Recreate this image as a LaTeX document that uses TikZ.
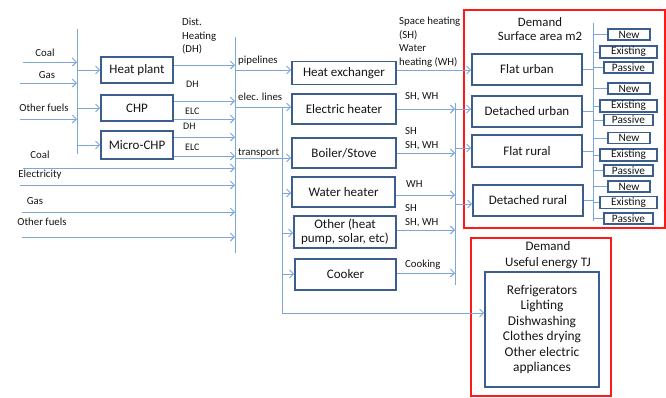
\documentclass[tikz,border=0pt]{standalone}
\usepackage{fontspec}
\setmainfont{Carlito}
\usetikzlibrary{arrows.meta}
\definecolor{lnc}{HTML}{7EA6DA}
\definecolor{bxc}{HTML}{3B5E8C}
\definecolor{rdc}{HTML}{FF1A1A}
\definecolor{txc}{HTML}{141414}
\begin{document}
\begin{tikzpicture}[x=1pt,y=-1pt,
  wire/.style={draw=lnc, line width=1pt},
  arr/.style={draw=lnc, line width=1pt, -{Straight Barb[length=4pt,width=8pt,line width=0.9pt]}},
  box/.style={draw=bxc, line width=1.6pt, font=\fontsize{13}{13.8}\selectfont, text=txc, inner sep=0pt, align=center},
  sbox/.style={draw=bxc, line width=1.3pt, font=\fontsize{11.3}{12}\selectfont, text=txc, inner sep=0pt},
  lbl/.style={font=\fontsize{10.8}{13.5}\selectfont, text=txc, inner sep=0pt, align=left},
  slbl/.style={font=\fontsize{10}{12}\selectfont, text=txc, inner sep=0pt},
  red/.style={draw=rdc, line width=1.5pt}
]
\useasboundingbox (0,0) rectangle (666,397);

% ---------- left fuel inputs ----------
\coordinate (b1top) at (77,29);
\coordinate (b1bot) at (77,154);
\draw[wire] (b1top) -- (b1bot);

\node[lbl] (lcoal) at (45,53) {Coal};
\node[lbl] (lgas) at (47,75) {Gas};
\node[lbl] (lof) at (44,108) {Other fuels};
\coordinate (ci1) at (23,62);
\coordinate (ci2) at (20,83);
\coordinate (ci3) at (20,119);
\draw[arr] (ci1) -- (ci1 -| b1top);
\draw[arr] (ci2) -- (ci2 -| b1top);
\draw[arr] (ci3) -- (ci3 -| b1top);

% conversion plants
\node[box, minimum width=72pt, minimum height=26pt] (hp) at (137,70) {Heat plant};
\node[box, minimum width=72pt, minimum height=26pt] (chp) at (137,108) {CHP};
\node[box, minimum width=72pt, minimum height=28pt] (mchp) at (137,145) {Micro-CHP};
\draw[arr] (hp.west -| b1top) -- (hp.west);
\draw[arr] (chp.west -| b1top) -- (chp.west);
\draw[arr] (mchp.west -| b1top) -- (mchp.west);

% second bus
\coordinate (b2top) at (235,37);
\coordinate (b2bot) at (235,253);
\draw[wire] (b2top) -- (b2bot);

\coordinate (hpo) at ([yshift=5pt]hp.east);
\coordinate (chpd) at ([yshift=7pt]chp.east);
\coordinate (chpe) at ([yshift=-11pt]chp.east);
\coordinate (mchd) at ([yshift=8pt]mchp.east);
\coordinate (mche) at ([yshift=-11pt]mchp.east);
\draw[arr] (hpo) -- (hpo -| b2top);
\draw[arr] (chpd) -- (chpd -| b2top);
\draw[arr] (chpe) -- (chpe -| b2top);
\draw[arr] (mchd) -- (mchd -| b2top);
\draw[arr] (mche) -- (mche -| b2top);

\node[lbl, anchor=west] (ldh0) at (182,36.5) {Dist.\\Heating\\(DH)};
\node[slbl, anchor=west] (ldh1) at (186,84) {DH};
\node[slbl, anchor=west] (lel1) at (185,111) {ELC};
\node[slbl, anchor=west] (ldh2) at (183,126) {DH};
\node[slbl, anchor=west] (lel2) at (185,147) {ELC};

% direct fuel inputs
\node[lbl] (lcoal2) at (40,155) {Coal};
\node[lbl] (lelec) at (40,175) {Electricity};
\node[lbl] (lgas2) at (35,201) {Gas};
\node[lbl] (lof2) at (42,222) {Other fuels};
\coordinate (di1) at (23,168);
\coordinate (di2) at (20,185);
\coordinate (di3) at (22,212);
\coordinate (di4) at (22,237);
\draw[arr] (di1) -- (di1 -| b2top);
\draw[arr] (di2) -- (di2 -| b2top);
\draw[arr] (di3) -- (di3 -| b2top);
\draw[arr] (di4) -- (di4 -| b2top);

% ---------- end-use technologies ----------
\node[box, minimum width=104pt, minimum height=23pt] (hx) at (344,73) {Heat exchanger};
\node[box, minimum width=104pt, minimum height=30pt] (eh) at (344,109) {Electric heater};
\node[box, minimum width=104pt, minimum height=30pt] (bs) at (344,153) {Boiler/Stove};
\node[box, minimum width=103pt, minimum height=30pt] (wh) at (343.5,192) {Water heater};
\node[box, minimum width=102pt, minimum height=32pt] (ot) at (345,232) {Other (heat\\pump, solar, etc)};
\node[box, minimum width=101pt, minimum height=31pt] (ck) at (345.5,274.5) {Cooker};

\coordinate (p1) at (235,70);
\coordinate (e1) at (235,107);
\coordinate (t1) at (235,158);
\coordinate (e2) at (282,107);
\coordinate (e3) at (282,313);
\coordinate (w1) at (282,193);
\coordinate (o1) at (282,233);
\coordinate (k1) at (282,274);
\node[lbl, anchor=west] (lpipe) at (238,61) {pipelines};
\node[lbl, anchor=west] (lelin) at (238,97) {elec. lines};
\node[lbl, anchor=west] (ltran) at (238,153) {transport};
\draw[arr] (p1) -- (p1 -| hx.west);
\draw[arr] (e1) -- (e1 -| eh.west);
\draw[arr] (t1) -- (t1 -| bs.west);
\draw[arr] (w1) -- (w1 -| wh.west);
\draw[arr] (o1) -- (o1 -| ot.west);
\draw[arr] (k1) -- (k1 -| ck.west);

% third bus
\coordinate (b3top) at (455,103);
\coordinate (b3bot) at (455,285);
\draw[wire] (b3top) -- (b3bot);

\coordinate (hxo) at ([yshift=3pt]hx.east);
\coordinate (who) at ([yshift=-3pt]wh.east);
\coordinate (oto) at ([yshift=2pt]ot.east);
\coordinate (cko) at ([yshift=1.5pt]ck.east);
\draw[arr] (eh.east) -- (eh.east -| b3top);
\draw[arr] (bs.east) -- (bs.east -| b3top);
\draw[arr] (who) -- (who -| b3top);
\draw[arr] (oto) -- (oto -| b3top);
\draw[arr] (cko) -- (cko -| b3top);

\node[lbl, anchor=west] (lsh) at (399,42) {Space heating\\(SH)\\Water\\heating (WH)};
\node[lbl, anchor=west] (l1) at (405,97) {SH, WH};
\node[lbl, anchor=west] (l2) at (405,138.5) {SH\\SH, WH};
\node[lbl, anchor=west] (l3) at (406,184) {WH};
\node[lbl, anchor=west] (l4) at (405,215.5) {SH\\SH, WH};
\node[lbl, anchor=west] (l5) at (405,265) {Cooking};

% ---------- demand: surface area ----------
\draw[red] (464,10) rectangle (665,228);
\node[font=\fontsize{12.8}{14.5}\selectfont, text=txc, align=center, inner sep=0pt] (dem1) at (540,29) {Demand\\Surface area m2};

\node[box, minimum width=110pt, minimum height=31pt] (fu) at (527,69.5) {Flat urban};
\node[box, minimum width=110pt, minimum height=31pt] (du) at (527,111.5) {Detached urban};
\node[box, minimum width=110pt, minimum height=32pt] (fr) at (527,151) {Flat rural};
\node[box, minimum width=110pt, minimum height=31pt] (dr) at (528,200.5) {Detached rural};

\coordinate (q2) at (455,148);
\coordinate (q3) at (455,204);
\draw[arr] (hxo) -- (hxo -| fu.west);
\draw[arr] (eh.east -| b3top) -- (eh.east -| du.west);
\draw[arr] (q2) -- (q2 -| fr.west);
\draw[arr] (q3) -- (q3 -| dr.west);

\coordinate (b4top) at (593,23);
\coordinate (b4bot) at (593,221);
\draw[wire] (b4top) -- (b4bot);
\draw[wire] (fu.east) -- (fu.east -| b4top);
\draw[wire] (du.east) -- (du.east -| b4top);
\draw[wire] (fr.east) -- (fr.east -| b4top);
\draw[wire] (dr.east) -- (dr.east -| b4top);

\foreach \i/\yn/\ye/\yp in {1/34.5/52/67.5, 2/88.5/106/120, 3/138/155/170.5, 4/186.5/202.5/218.5}{
  \node[sbox, minimum width=42pt, minimum height=11pt] (n\i) at (629,\yn) {New};
  \node[sbox, minimum width=57pt, minimum height=12pt] (x\i) at (628.5,\ye) {Existing};
  \node[sbox, minimum width=49pt, minimum height=11pt] (s\i) at (628.5,\yp) {Passive};
  \draw[wire] (n\i.west -| b4top) -- (n\i.west);
  \draw[wire] (x\i.west -| b4top) -- (x\i.west);
  \draw[wire] (s\i.west -| b4top) -- (s\i.west);
}

% ---------- demand: useful energy ----------
\draw[red] (471,238) rectangle (611,396);
\node[font=\fontsize{13}{16}\selectfont, text=txc, align=center, inner sep=0pt] (dem2) at (548,255) {Demand\\Useful energy TJ};
\node[draw=bxc, line width=1.6pt, minimum width=114pt, minimum height=115pt, inner sep=0pt, align=center,
      font=\fontsize{13.4}{15.4}\selectfont, text=txc] (ue) at (542,329.5)
      {Refrigerators\\Lighting\\Dishwashing\\Clothes drying\\Other electric\\appliances};

\draw[wire] (e2) -- (e3);
\draw[arr] (e3) -- (e3 -| ue.west);
\end{tikzpicture}
\end{document}
